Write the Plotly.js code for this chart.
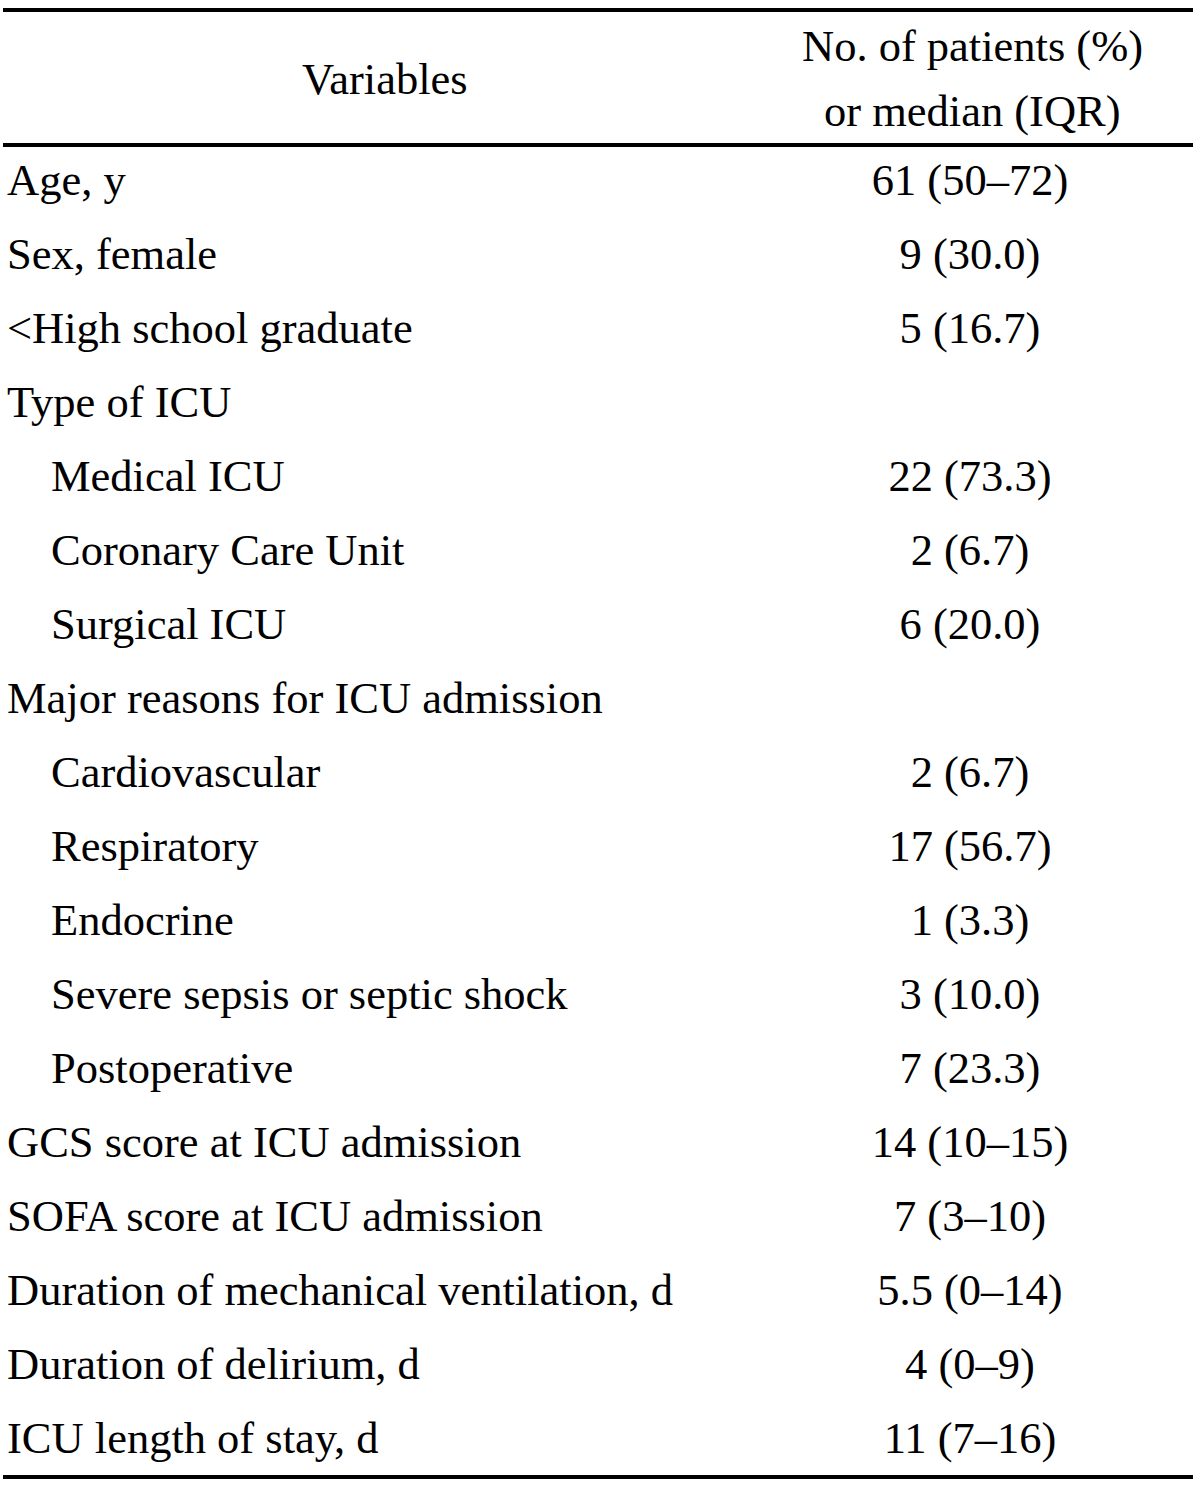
<!DOCTYPE html>
<html><head><meta charset="utf-8">
<script src="https://cdn.plot.ly/plotly-3.0.1.min.js"></script>
<style>html,body{margin:0;padding:0;background:#fff}</style>
</head><body><div id="chart" style="width:1200px;height:1488px"></div>
<script>
const headerLeft = "Variables";
const headerRight = ["No. of patients (%)", "or median (IQR)"];
const variables = [
  "Age, y", "Sex, female", "<High school graduate", "Type of ICU",
  "Medical ICU", "Coronary Care Unit", "Surgical ICU",
  "Major reasons for ICU admission",
  "Cardiovascular", "Respiratory", "Endocrine", "Severe sepsis or septic shock", "Postoperative",
  "GCS score at ICU admission", "SOFA score at ICU admission",
  "Duration of mechanical ventilation, d", "Duration of delirium, d", "ICU length of stay, d"
];
const indented = [0,0,0,0, 1,1,1, 0, 1,1,1,1,1, 0,0,0,0,0];
const values = [
  "61 (50–72)", "9 (30.0)", "5 (16.7)", "",
  "22 (73.3)", "2 (6.7)", "6 (20.0)", "",
  "2 (6.7)", "17 (56.7)", "1 (3.3)", "3 (10.0)", "7 (23.3)",
  "14 (10–15)", "7 (3–10)", "5.5 (0–14)", "4 (0–9)", "11 (7–16)"
];

const FONT = "Liberation Serif, Times New Roman, serif";
const FS = 44.5;
const rowY0 = 184, rowH = 74;
const ys = variables.map((_, i) => rowY0 + i * rowH);
const esc = s => s.replace(/&/g,'&amp;').replace(/</g,'&lt;').replace(/>/g,'&gt;');

const traces = [
  {
    type: 'scatter', mode: 'text',
    x: variables.map((_, i) => indented[i] ? 51 : 7),
    y: ys,
    text: variables.map(esc),
    textposition: 'middle right',
    textfont: {family: FONT, size: FS, color: '#000'},
    hoverinfo: 'skip', showlegend: false
  },
  {
    type: 'scatter', mode: 'text',
    x: values.map(() => 970),
    y: ys,
    text: values,
    textposition: 'middle center',
    textfont: {family: FONT, size: FS, color: '#000'},
    hoverinfo: 'skip', showlegend: false
  }
];

const lineY = [10, 145, 1477];
const shapes = lineY.map(y => ({
  type: 'line', xref: 'x', yref: 'y', x0: 3, x1: 1193, y0: y, y1: y,
  line: {color: '#000', width: 4}
}));

const layout = {
  width: 1200, height: 1488,
  margin: {l: 0, r: 0, t: 0, b: 0},
  paper_bgcolor: '#fff', plot_bgcolor: '#fff',
  xaxis: {range: [0, 1200], visible: false, fixedrange: true},
  yaxis: {range: [1488, 0], visible: false, fixedrange: true},
  shapes: shapes,
  annotations: [
    {x: 385, y: 79, xref: 'x', yref: 'y', text: headerLeft, showarrow: false,
     font: {family: FONT, size: FS, color: '#000'}},
    {x: 972, y: 46, xref: 'x', yref: 'y', text: headerRight[0], showarrow: false,
     font: {family: FONT, size: FS, color: '#000'}},
    {x: 972, y: 111, xref: 'x', yref: 'y', text: headerRight[1], showarrow: false,
     font: {family: FONT, size: FS, color: '#000'}}
  ]
};

Plotly.newPlot('chart', traces, layout, {staticPlot: true, displayModeBar: false});
</script></body></html>
